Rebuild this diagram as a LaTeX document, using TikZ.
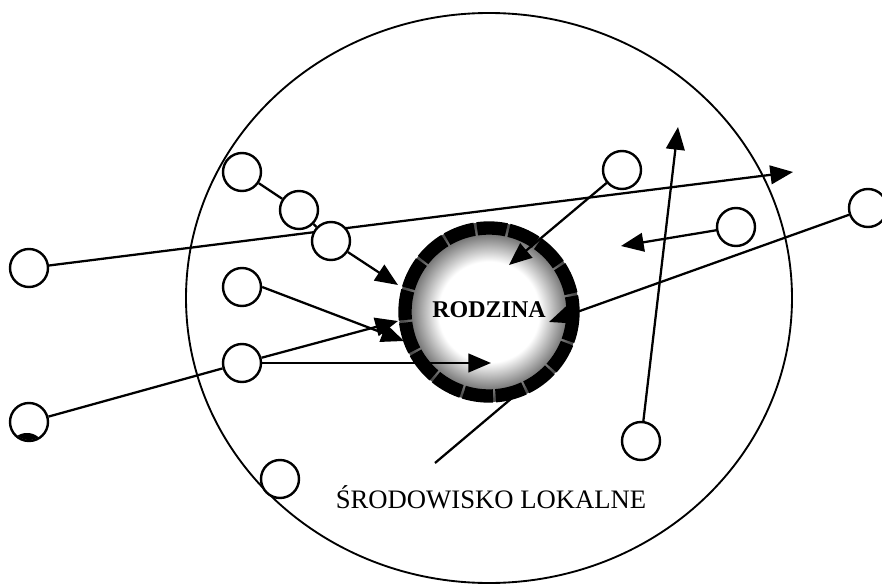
\documentclass[tikz,border=0pt]{standalone}
\usepackage{fontspec}
\setmainfont{Liberation Serif}
\usetikzlibrary{arrows.meta}
\pgfdeclarelayer{back}
\pgfsetlayers{back,main}
\pgfdeclareradialshading{ringfade}{\pgfpointorigin}{color(0bp)=(white); color(14bp)=(white); color(24bp)=(black!70); color(50bp)=(black!70)}

\begin{document}
\begin{tikzpicture}[x=0.75pt,y=-0.75pt,>={Triangle[length=17pt,width=14pt]},
  member/.style={circle,draw,fill=white,line width=1.8pt,minimum size=28.5pt,inner sep=0pt},
  link/.style={line width=1.7pt}]
  \clip (0,0) rectangle (882,585);
  % members of the local environment
  \node[member] (c1) at (242,172) {};
  \node[member] (c2) at (299,210) {};
  \node[member] (c3) at (331,241) {};
  \node[member] (c4) at (242,287) {};
  \node[member] (c5) at (242,363) {};
  \node[member] (c6) at (29,268) {};
  \node[member] (c7) at (29,422) {};
  \node[member] (c8) at (622,170) {};
  \node[member] (c9) at (736,227) {};
  \node[member] (c10) at (868,208) {};
  \node[member] (c11) at (641,441) {};
  \node[member] (c12) at (280,479) {};
  \begin{scope}
    \clip (c7.center) circle [radius=18];
    \fill (27,445) ellipse [x radius=15,y radius=12];
  \end{scope}
  \coordinate (r) at (489,312);
  \coordinate (tC) at (398,285);
  \coordinate (tD) at (404,341);
  \coordinate (tG) at (398,321);
  \coordinate (tE) at (491,363);
  \coordinate (tH) at (509,265);
  \coordinate (tI) at (621,246);
  \coordinate (tJ) at (549,322);
  \coordinate (tF) at (793,172);
  \coordinate (tK) at (678,127);
  \coordinate (p1) at (435,463);
  \coordinate (p2) at (512,398);
  \begin{pgfonlayer}{back}
    \draw[line width=1.4pt] (489,298) ellipse [x radius=303,y radius=285];
    % family
    \shade[shading=ringfade] (r) circle [radius=90];
    \draw[line width=10pt,dash pattern=on 22pt off 2pt] (r) circle [radius=84];
    \draw[link] (c1) -- (c2);
    \draw[link] (c2) -- (c3);
    \draw[link,->] (c3) -- (tC);
    \draw[link,->] (c4.east) -- (tD);
    \draw[link] (c7) -- (c5);
    \draw[link,->] (c5) -- (tG);
    \draw[link,->] (c5) -- (tE);
    \draw[link,->] (c6) -- (tF);
    \draw[link,->] (c8) -- (tH);
    \draw[link,->] (c9) -- (tI);
    \draw[link,->] (c10) -- (tJ);
    \draw[link,->] (c11) -- (tK);
    \draw[link] (p1) -- (p2);
  \end{pgfonlayer}
  \node[font=\bfseries\fontsize{18}{18}\selectfont] (rt) at (489,310) {RODZINA};
  \node[font=\fontsize{20}{20}\selectfont,anchor=base] (s) at (491,508) {ŚRODOWISKO LOKALNE};
\end{tikzpicture}
\end{document}
